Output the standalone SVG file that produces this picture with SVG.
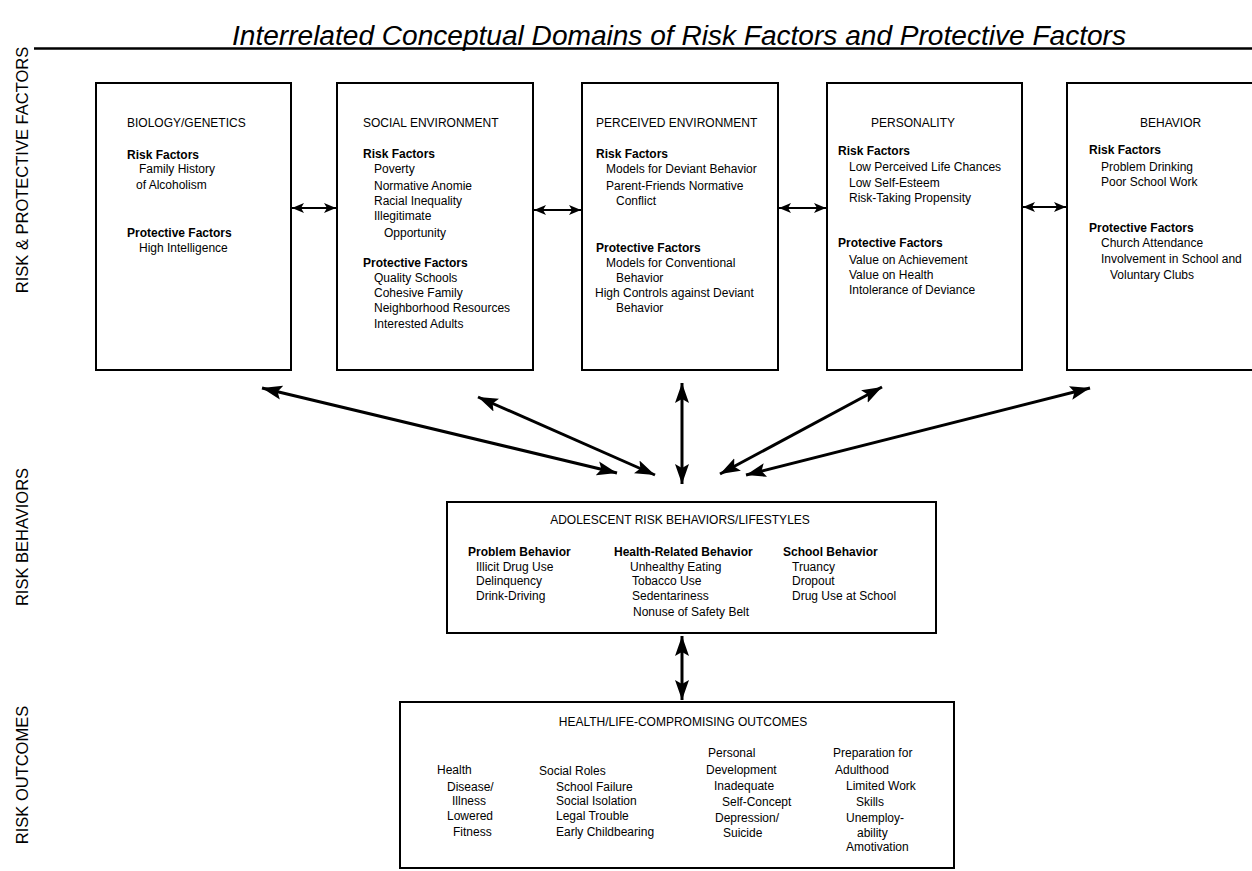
<svg xmlns="http://www.w3.org/2000/svg" width="1252" height="871" viewBox="0 0 1252 871">
<style>
text{font-family:"Liberation Sans",Arial,sans-serif;font-size:12px;fill:#000}
.b{font-weight:bold}
.side{font-size:16.5px}
.title{font-style:italic;font-size:27px}
.box{fill:#fff;stroke:#000;stroke-width:2}
.big{stroke:#000;stroke-width:3;fill:none;marker-start:url(#ah);marker-end:url(#ah)}
.small{stroke:#000;stroke-width:2;fill:none;marker-start:url(#sh);marker-end:url(#sh)}
</style>
<defs>
<marker id="ah" markerUnits="userSpaceOnUse" markerWidth="22" markerHeight="16" refX="20" refY="7" orient="auto-start-reverse" viewBox="0 0 22 14">
<path d="M0,0 L20,7 L0,14 L4,7 Z" fill="#000"/>
</marker>
<marker id="sh" markerUnits="userSpaceOnUse" markerWidth="13" markerHeight="11" refX="12" refY="5" orient="auto-start-reverse" viewBox="0 0 13 10">
<path d="M0,0 L12,5 L0,10 L3,5 Z" fill="#000"/>
</marker>
</defs>
<rect width="1252" height="871" fill="#fff"/>

<g id="header">
<text class="title" x="232" y="45" textLength="894" lengthAdjust="spacingAndGlyphs">Interrelated Conceptual Domains of  Risk Factors and Protective Factors</text>
<line x1="34" y1="48.5" x2="1252" y2="48.5" stroke="#000" stroke-width="2.5"/>
</g>

<g id="side-labels">
<text class="side" text-anchor="middle" transform="translate(28,170) rotate(-90)">RISK &amp; PROTECTIVE FACTORS</text>
<text class="side" text-anchor="middle" transform="translate(28,537) rotate(-90)">RISK BEHAVIORS</text>
<text class="side" text-anchor="middle" transform="translate(28,775) rotate(-90)">RISK OUTCOMES</text>
</g>

<g id="connectors">
<line class="small" x1="292" y1="208" x2="336" y2="208"/>
<line class="small" x1="534" y1="210" x2="581" y2="210"/>
<line class="small" x1="779" y1="208" x2="826" y2="208"/>
<line class="small" x1="1023" y1="207" x2="1066" y2="207"/>
<line class="big" x1="262" y1="388" x2="617" y2="473"/>
<line class="big" x1="478" y1="397" x2="655" y2="475"/>
<line class="big" x1="682" y1="383" x2="682" y2="484"/>
<line class="big" x1="882" y1="387" x2="720" y2="474"/>
<line class="big" x1="1090" y1="388" x2="746" y2="475"/>
<line class="big" x1="682" y1="636" x2="682" y2="700"/>
</g>

<g id="biology">
<rect class="box" x="96" y="83" width="195" height="287"/>
<text x="127" y="127">BIOLOGY/GENETICS</text>
<text class="b" x="127" y="159">Risk Factors</text>
<text x="139" y="173">Family History</text>
<text x="136" y="189">of Alcoholism</text>
<text class="b" x="127" y="237">Protective Factors</text>
<text x="139" y="252">High Intelligence</text>
</g>

<g id="social">
<rect class="box" x="337" y="83" width="196" height="287"/>
<text x="363" y="127">SOCIAL ENVIRONMENT</text>
<text class="b" x="363" y="158">Risk Factors</text>
<text x="374" y="173">Poverty</text>
<text x="374" y="190">Normative Anomie</text>
<text x="374" y="205">Racial Inequality</text>
<text x="374" y="220">Illegitimate</text>
<text x="384" y="237">Opportunity</text>
<text class="b" x="363" y="267">Protective Factors</text>
<text x="374" y="282">Quality Schools</text>
<text x="374" y="297">Cohesive Family</text>
<text x="374" y="312">Neighborhood Resources</text>
<text x="374" y="328">Interested Adults</text>
</g>

<g id="perceived">
<rect class="box" x="582" y="83" width="196" height="287"/>
<text x="596" y="127">PERCEIVED ENVIRONMENT</text>
<text class="b" x="596" y="158">Risk Factors</text>
<text x="606" y="173">Models for Deviant Behavior</text>
<text x="606" y="190">Parent-Friends Normative</text>
<text x="616" y="205">Conflict</text>
<text class="b" x="596" y="252">Protective Factors</text>
<text x="606" y="267">Models for Conventional</text>
<text x="616" y="282">Behavior</text>
<text x="595" y="297">High Controls against Deviant</text>
<text x="616" y="312">Behavior</text>
</g>

<g id="personality">
<rect class="box" x="827" y="83" width="195" height="287"/>
<text x="871" y="127">PERSONALITY</text>
<text class="b" x="838" y="155">Risk Factors</text>
<text x="849" y="171">Low Perceived Life Chances</text>
<text x="849" y="187">Low Self-Esteem</text>
<text x="849" y="202">Risk-Taking Propensity</text>
<text class="b" x="838" y="247">Protective Factors</text>
<text x="849" y="264">Value on Achievement</text>
<text x="849" y="279">Value on Health</text>
<text x="849" y="294">Intolerance of Deviance</text>
</g>

<g id="behavior">
<rect class="box" x="1067" y="83" width="195" height="287"/>
<text x="1140" y="127">BEHAVIOR</text>
<text class="b" x="1089" y="154">Risk Factors</text>
<text x="1101" y="171">Problem Drinking</text>
<text x="1101" y="186">Poor School Work</text>
<text class="b" x="1089" y="232">Protective Factors</text>
<text x="1101" y="247">Church Attendance</text>
<text x="1101" y="263">Involvement in School and</text>
<text x="1110" y="279">Voluntary Clubs</text>
</g>

<g id="risk-behaviors">
<rect class="box" x="447" y="502" width="489" height="131"/>
<text x="680" y="524" text-anchor="middle">ADOLESCENT RISK BEHAVIORS/LIFESTYLES</text>
<text class="b" x="468" y="556">Problem Behavior</text>
<text x="476" y="571">Illicit Drug Use</text>
<text x="476" y="585">Delinquency</text>
<text x="476" y="600">Drink-Driving</text>
<text class="b" x="614" y="556">Health-Related Behavior</text>
<text x="630" y="571">Unhealthy Eating</text>
<text x="632" y="585">Tobacco Use</text>
<text x="632" y="600">Sedentariness</text>
<text x="633" y="616">Nonuse of Safety Belt</text>
<text class="b" x="783" y="556">School Behavior</text>
<text x="792" y="571">Truancy</text>
<text x="792" y="585">Dropout</text>
<text x="792" y="600">Drug Use at School</text>
</g>

<g id="outcomes">
<rect class="box" x="400" y="702" width="554" height="166"/>
<text x="683" y="726" text-anchor="middle">HEALTH/LIFE-COMPROMISING OUTCOMES</text>
<text x="437" y="774">Health</text>
<text x="447" y="791">Disease/</text>
<text x="452" y="805">Illness</text>
<text x="447" y="820">Lowered</text>
<text x="453" y="836">Fitness</text>
<text x="539" y="775">Social Roles</text>
<text x="556" y="791">School Failure</text>
<text x="556" y="805">Social Isolation</text>
<text x="556" y="820">Legal Trouble</text>
<text x="556" y="836">Early Childbearing</text>
<text x="708" y="757">Personal</text>
<text x="706" y="774">Development</text>
<text x="714" y="790">Inadequate</text>
<text x="722" y="806">Self-Concept</text>
<text x="715" y="822">Depression/</text>
<text x="723" y="837">Suicide</text>
<text x="833" y="757">Preparation for</text>
<text x="835" y="774">Adulthood</text>
<text x="846" y="790">Limited Work</text>
<text x="856" y="806">Skills</text>
<text x="846" y="822">Unemploy-</text>
<text x="857" y="837">ability</text>
<text x="846" y="851">Amotivation</text>
</g>
</svg>
